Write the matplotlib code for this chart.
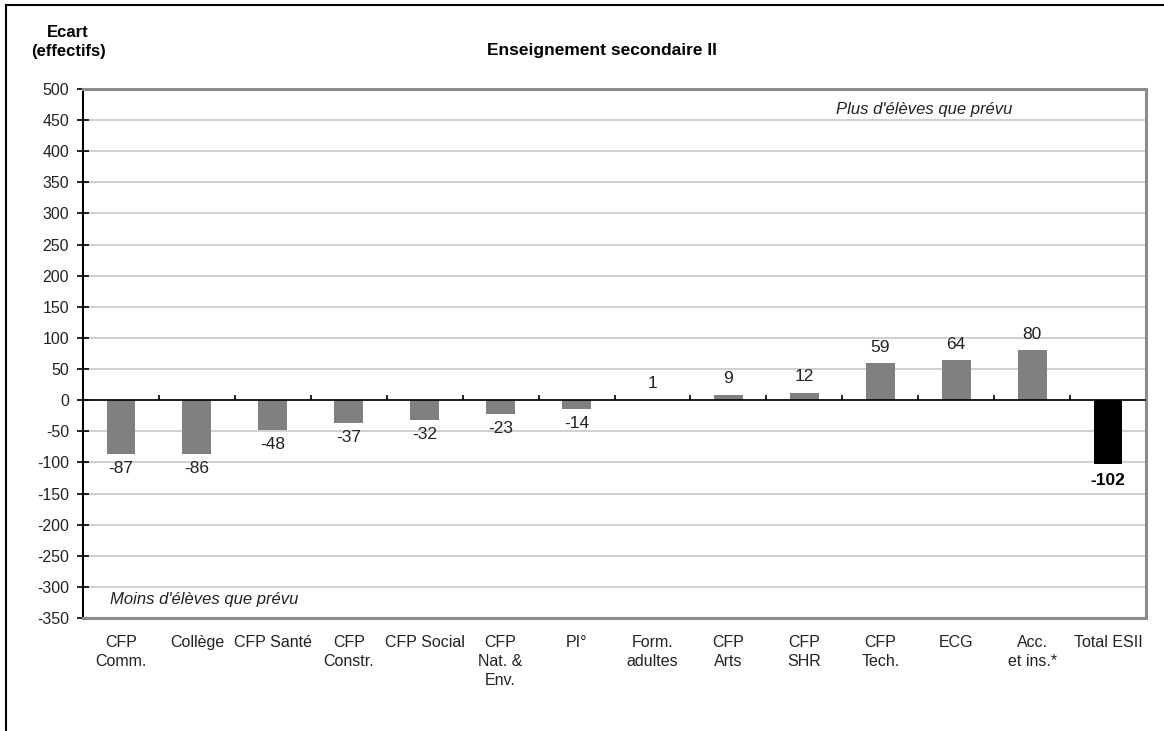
import matplotlib
matplotlib.use("Agg")
import matplotlib.pyplot as plt
from matplotlib.lines import Line2D
from matplotlib.patches import Rectangle
from matplotlib import font_manager

names = {f.name for f in font_manager.fontManager.ttflist}
FONT = "Liberation Sans Narrow" if "Liberation Sans Narrow" in names else "Liberation Sans"
plt.rcParams["font.family"] = [FONT, "DejaVu Sans"]

# ── Data ───────────────────────────────────────────────────────────────────
CATEGORIES = ["CFP\nComm.", "Collège", "CFP Santé", "CFP\nConstr.", "CFP Social",
              "CFP\nNat. &\nEnv.", "PI°", "Form.\nadultes", "CFP\nArts", "CFP\nSHR",
              "CFP\nTech.", "ECG", "Acc.\net ins.*", "Total ESII"]
VALUES = [-87, -86, -48, -37, -32, -23, -14, 1, 9, 12, 59, 64, 80, -102]
YTICKS = list(range(-350, 501, 50))

BAR_GREY = "#808080"
GRID = "#c8c8c8"

fig = plt.figure(figsize=(11.64, 7.31), dpi=100)
ax = fig.add_axes([83 / 1164, 1 - 618 / 731, (1146 - 83) / 1164, (618 - 89) / 731])

xs = list(range(len(VALUES)))
colors = [BAR_GREY] * (len(VALUES) - 1) + ["black"]
ax.bar(xs, VALUES, width=0.38, color=colors, zorder=3)

# value labels
for i, v in enumerate(VALUES):
    last = i == len(VALUES) - 1
    if v >= 0:
        ax.annotate(f"{v}", (i, v), xytext=(0, 6), textcoords="offset points",
                    ha="center", va="bottom", fontsize=12.5, color="#222222")
    else:
        ax.annotate(f"{v}", (i, v), xytext=(0, -7 if last else -5),
                    textcoords="offset points",
                    ha="center", va="top", fontsize=12.5,
                    color="black" if last else "#222222",
                    fontweight="bold" if last else "normal")

ax.set_xlim(-0.5, len(VALUES) - 0.5)
ax.set_ylim(-350, 500)
ax.set_yticks(YTICKS)
ax.set_yticklabels([str(t) for t in YTICKS], fontsize=11.5, color="#222222")
ax.grid(axis="y", color=GRID, linewidth=1.2, zorder=0)
ax.tick_params(axis="y", direction="inout", length=8, width=1.2, pad=6)

ax.set_xticks(xs)
ax.set_xticklabels(CATEGORIES, fontsize=11.5, color="#222222", linespacing=1.35, va="top")
ax.tick_params(axis="x", length=0, pad=12)

# zero axis with small category separators
ax.axhline(0, color="black", linewidth=1.2, zorder=4)
ax.vlines([i + 0.5 for i in xs[:-1]], 0, 8, color="black", linewidth=1.2, zorder=4)

for side in ("top", "right", "bottom"):
    ax.spines[side].set_color("#8c8c8c")
    ax.spines[side].set_linewidth(2.2)
ax.spines["left"].set_color("black")
ax.spines["left"].set_linewidth(1.5)

# annotations inside the plot
ax.add_patch(Rectangle((-0.21, -345), 3.19, 58, facecolor="white",
                       edgecolor="none", zorder=1))
ax.text(-0.14, -321, "Moins d'élèves que prévu", style="italic", fontsize=12,
        ha="left", va="center", color="#222222", zorder=2)
ax.text(11.74, 467, "Plus d'élèves que prévu", style="italic", fontsize=12,
        ha="right", va="center", color="#222222", zorder=2)

fig.text(602 / 1164, 1 - 51 / 731, "Enseignement secondaire II", ha="center",
         va="center", fontsize=12.5, fontweight="bold")
fig.text(68 / 1164, 1 - 42 / 731, "Ecart\n(effectifs)", ha="center", va="center",
         fontsize=12, fontweight="bold", linespacing=1.4)

# outer frame (top and left edges visible)
fig.add_artist(Line2D([6 / 1164, 6 / 1164], [0, 1 - 5 / 731], color="black",
                      linewidth=1.5, transform=fig.transFigure))
fig.add_artist(Line2D([6 / 1164, 1], [1 - 5 / 731, 1 - 5 / 731], color="black",
                      linewidth=1.5, transform=fig.transFigure))

fig.savefig("out.png", dpi=100)
